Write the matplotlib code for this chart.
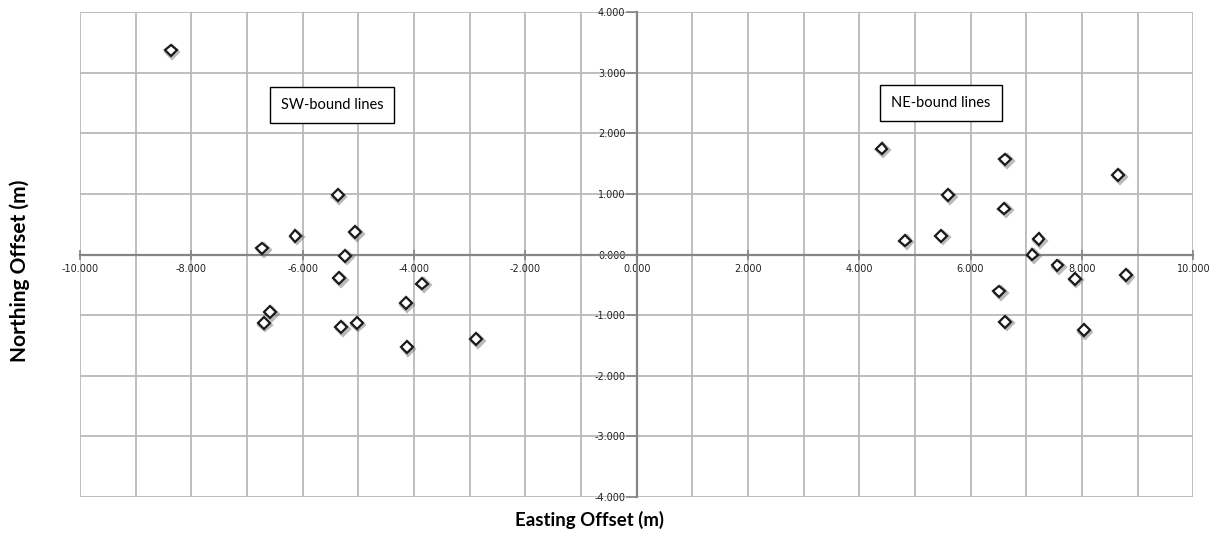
import numpy as np
import matplotlib
matplotlib.use("Agg")
import matplotlib.pyplot as plt
import matplotlib.patheffects as pe

# offsets of the SW-bound lines (easting, northing) in metres
sw_east = [-8.37, -6.73, -6.13, -5.37, -5.06, -5.24, -5.34, -6.58, -6.70,
           -5.31, -5.03, -4.15, -4.13, -3.85, -2.88]
sw_north = [3.37, 0.10, 0.31, 0.98, 0.37, -0.02, -0.39, -0.95, -1.13,
            -1.20, -1.13, -0.80, -1.53, -0.48, -1.40]

# offsets of the NE-bound lines
ne_east = [4.40, 6.62, 8.65, 5.60, 6.60, 4.82, 5.47, 7.22, 7.11,
           7.56, 7.87, 8.79, 6.51, 6.62, 8.03]
ne_north = [1.75, 1.57, 1.31, 0.98, 0.76, 0.23, 0.31, 0.25, 0.00,
            -0.18, -0.40, -0.34, -0.61, -1.11, -1.25]

x_ticks = np.arange(-10, 11, 2)
y_ticks = np.arange(-4, 5, 1)

grid_col = '#b9b9b9'
axis_col = '#858585'

fig = plt.figure(figsize=(12.25, 5.36), dpi=100)
ax = fig.add_axes([0.0653, 0.0733, 0.9088, 0.9037])

ax.set_xlim(-10, 10)
ax.set_ylim(-4, 4)

ax.set_xticks(x_ticks)
ax.set_xticklabels([f'{v:.3f}' for v in x_ticks])
ax.set_xticks(np.arange(-10, 11, 1), minor=True)
ax.set_yticks(y_ticks)
ax.set_yticklabels([f'{v:.3f}' for v in y_ticks])

ax.grid(True, which='both', color=grid_col, linewidth=1.3, zorder=0)
ax.set_axisbelow(True)

# axes cross at the origin
for side in ['top', 'right']:
    ax.spines[side].set_visible(False)
ax.spines['left'].set_position(('data', 0))
ax.spines['bottom'].set_position(('data', 0))
for side in ['left', 'bottom']:
    ax.spines[side].set_color(axis_col)
    ax.spines[side].set_linewidth(1.6)
    ax.spines[side].set_zorder(1)

ax.tick_params(axis='x', which='major', direction='inout', length=7,
               width=1.2, color=axis_col, pad=3, labelsize=7, labelcolor='#222222')
ax.tick_params(axis='x', which='minor', length=0)
ax.tick_params(axis='y', direction='out', length=8, width=1.2,
               color=axis_col, pad=0, labelsize=7, labelcolor='#222222')

shadow = [pe.SimpleLineShadow(offset=(1.2, -1.2), shadow_color='#666666',
                              alpha=0.45, linewidth=2.6), pe.Normal()]
for xs, ys in [(sw_east, sw_north), (ne_east, ne_north)]:
    ax.plot(xs, ys, linestyle='none', marker='D', markersize=6,
            markerfacecolor='white', markeredgecolor='#1a1a1a',
            markeredgewidth=1.6, zorder=3, path_effects=shadow)

box = dict(boxstyle='square,pad=0.75', facecolor='white',
           edgecolor='black', linewidth=1)
ax.text(-5.475, 2.466, 'SW-bound lines', ha='center', va='center',
        fontsize=10.5, family='Lato', bbox=box, zorder=4)
ax.text(5.466, 2.501, 'NE-bound lines', ha='center', va='center',
        fontsize=10.5, family='Lato', bbox=box, zorder=4)

fig.text(0.4812, 0.030, 'Easting Offset (m)', ha='center', va='center',
         fontsize=13.4, fontweight='bold', family='Lato')
fig.text(0.0163, 0.494, 'Northing Offset (m)', ha='center', va='center',
         rotation=90, fontsize=15, fontweight='bold', family='Lato')

fig.savefig('out.png', dpi=100)
